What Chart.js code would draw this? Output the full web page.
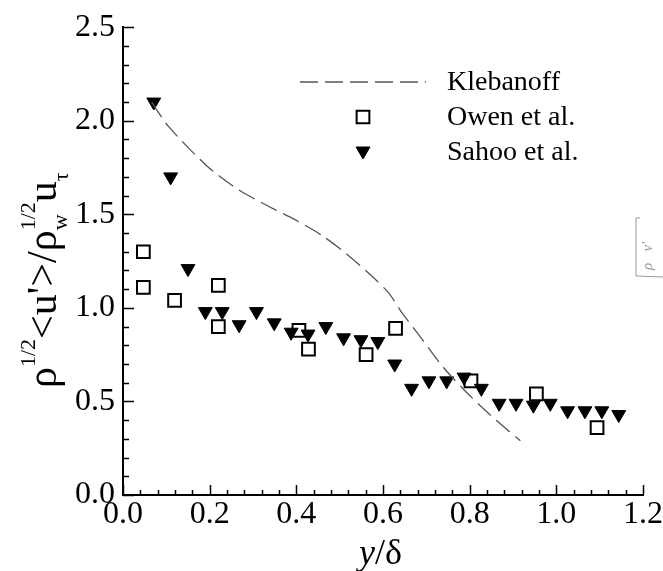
<!DOCTYPE html>
<html>
<head>
<meta charset="utf-8">
<script src="https://cdn.jsdelivr.net/npm/chart.js@4.4.0/dist/chart.umd.min.js"></script>
<style>
  html, body { margin: 0; padding: 0; background: #fff; }
  #wrap { width: 663px; height: 571px; position: relative; }
</style>
</head>
<body>
<div id="wrap"><canvas id="chart" width="663" height="571"></canvas></div>
<script>
// Klebanoff (dashed curve)
const klebanoffX = [0.066, 0.105, 0.193, 0.261, 0.330, 0.398, 0.457, 0.515, 0.574, 0.613, 0.642, 0.691, 0.740, 0.788, 0.837, 0.886, 0.917];
const klebanoffY = [2.10, 1.97, 1.76, 1.64, 1.55, 1.47, 1.39, 1.29, 1.17, 1.08, 0.98, 0.83, 0.68, 0.56, 0.45, 0.35, 0.29];

// Owen et al. (open squares)
const owenX = [0.047, 0.047, 0.119, 0.220, 0.220, 0.406, 0.428, 0.561, 0.629, 0.803, 0.954, 1.094];
const owenY = [1.30, 1.11, 1.04, 1.12, 0.90, 0.88, 0.78, 0.75, 0.89, 0.61, 0.54, 0.36];

// Sahoo et al. (filled triangles)
const sahooX = [0.071, 0.110, 0.150, 0.190, 0.229, 0.268, 0.308, 0.349, 0.388, 0.427, 0.468, 0.509, 0.549, 0.588, 0.627, 0.666, 0.706, 0.747, 0.787, 0.827, 0.868, 0.907, 0.947, 0.986, 1.026, 1.066, 1.105, 1.144];
const sahooY = [2.10, 1.70, 1.21, 0.98, 0.98, 0.91, 0.98, 0.92, 0.87, 0.86, 0.90, 0.84, 0.83, 0.82, 0.70, 0.57, 0.61, 0.61, 0.63, 0.57, 0.49, 0.49, 0.48, 0.49, 0.45, 0.45, 0.45, 0.43];

const seriesNames = ["Klebanoff", "Owen et al.", "Sahoo et al."];

const xTicks = [0, 0.2, 0.4, 0.6, 0.8, 1.0, 1.2];
const yTicks = [0, 0.5, 1.0, 1.5, 2.0, 2.5];

const serif = '"Liberation Serif", "Times New Roman", serif';

function pts(xs, ys) {
  return xs.map((x, i) => ({ x: x, y: ys[i] }));
}

// inward major/minor ticks like the original plot
const axisTicks = {
  id: 'axisTicks',
  afterDraw(chart) {
    const ctx = chart.ctx;
    const a = chart.chartArea;
    const xs = chart.scales.x, ys = chart.scales.y;
    ctx.save();
    ctx.strokeStyle = '#000';
    ctx.lineWidth = 1.5;
    ctx.beginPath();
    for (let i = 0; i <= 30; i++) {
      const px = Math.round(xs.getPixelForValue(i * 0.04)) + 0.5;
      const len = i % 5 === 0 ? 10 : 5;
      ctx.moveTo(px, a.bottom);
      ctx.lineTo(px, a.bottom - len);
    }
    for (let i = 0; i <= 25; i++) {
      const py = Math.round(ys.getPixelForValue(i * 0.1)) + 0.5;
      const len = i % 5 === 0 ? 11 : 6;
      ctx.moveTo(a.left, py);
      ctx.lineTo(a.left + len, py);
    }
    ctx.stroke();
    ctx.restore();
  }
};

// axis titles with super/subscripts
function drawRuns(ctx, runs) {
  let x = 0;
  runs.forEach(r => {
    if (r.stack) {
      let w = 0;
      r.stack.forEach(s => {
        ctx.font = s.size + 'px ' + serif;
        ctx.fillText(s.t, x, s.dy);
        w = Math.max(w, ctx.measureText(s.t).width);
      });
      x += w;
    } else {
      ctx.font = (r.italic ? 'italic ' : '') + r.size + 'px ' + serif;
      ctx.fillText(r.t, x, r.dy || 0);
      x += ctx.measureText(r.t).width;
    }
  });
}

const titles = {
  id: 'titles',
  afterDraw(chart) {
    const ctx = chart.ctx;
    const a = chart.chartArea;
    ctx.save();
    ctx.fillStyle = '#000';
    ctx.textBaseline = 'alphabetic';
    ctx.textAlign = 'left';

    // y title, rotated
    ctx.save();
    ctx.translate(56, 388);
    ctx.rotate(-Math.PI / 2);
    drawRuns(ctx, [
      { t: 'ρ', size: 42 },
      { t: '1/2', size: 22, dy: -21 },
      { t: "<u'>/ρ", size: 42 },
      { stack: [{ t: '1/2', size: 22, dy: -21 }, { t: 'w', size: 22, dy: 11 }] },
      { t: 'u', size: 42 },
      { t: 'τ', size: 22, dy: 12 }
    ]);
    ctx.restore();

    // x title
    ctx.save();
    ctx.translate((a.left + a.right) / 2 - 24, 564);
    drawRuns(ctx, [
      { t: 'y', size: 36, italic: true },
      { t: '/δ', size: 36 }
    ]);
    ctx.restore();

    // legend
    const ds = chart.data.datasets;
    ctx.font = '28px ' + serif;
    ctx.textBaseline = 'middle';
    ctx.strokeStyle = '#555';
    ctx.lineWidth = 1.4;
    ctx.setLineDash([18, 7]);
    ctx.beginPath();
    ctx.moveTo(300, 82);
    ctx.lineTo(426, 82);
    ctx.stroke();
    ctx.setLineDash([]);
    ctx.fillText(ds[0].label, 447, 83);

    ctx.fillStyle = 'rgba(0,0,0,0)';
    ctx.strokeStyle = '#000';
    ctx.lineWidth = 2;
    Chart.helpers.drawPoint(ctx, {
      pointStyle: 'rect', radius: 9, borderWidth: 2, rotation: 0
    }, 363, 117);
    ctx.fillStyle = '#000';
    ctx.fillText(ds[1].label, 447, 118);

    ctx.lineWidth = 1;
    Chart.helpers.drawPoint(ctx, {
      pointStyle: 'triangle', radius: 8, borderWidth: 1, rotation: 180
    }, 363, 151);
    ctx.fillText(ds[2].label, 447, 153);

    // stray label fragment at right edge
    ctx.strokeStyle = '#999';
    ctx.lineWidth = 1;
    ctx.beginPath();
    ctx.moveTo(640, 218);
    ctx.lineTo(636, 218);
    ctx.lineTo(636, 276);
    ctx.lineTo(663, 277);
    ctx.stroke();
    ctx.save();
    ctx.translate(652, 270);
    ctx.rotate(-Math.PI / 2);
    ctx.fillStyle = '#999';
    ctx.textBaseline = 'alphabetic';
    ctx.font = 'italic 15px ' + serif;
    ctx.fillText("ρ   v'", 0, 0);
    ctx.restore();

    ctx.restore();
  }
};

new Chart(document.getElementById('chart'), {
  type: 'scatter',
  data: {
    datasets: [
      {
        label: seriesNames[0],
        type: 'line',
        data: pts(klebanoffX, klebanoffY),
        borderColor: '#555',
        borderWidth: 1.3,
        borderDash: [18, 7],
        pointRadius: 0,
        tension: 0.3,
        fill: false
      },
      {
        label: seriesNames[1],
        data: pts(owenX, owenY),
        pointStyle: 'rect',
        pointRadius: 9,
        borderColor: '#000',
        borderWidth: 2,
        backgroundColor: 'rgba(0,0,0,0)'
      },
      {
        label: seriesNames[2],
        data: pts(sahooX, sahooY),
        pointStyle: 'triangle',
        pointRotation: 180,
        pointRadius: 8,
        borderColor: '#000',
        borderWidth: 1,
        backgroundColor: '#000'
      }
    ]
  },
  options: {
    responsive: false,
    animation: false,
    devicePixelRatio: 1,
    layout: { padding: { top: 20, right: 20, left: 0, bottom: 0 } },
    plugins: {
      legend: { display: false },
      tooltip: { enabled: false }
    },
    scales: {
      x: {
        type: 'linear',
        min: 0,
        max: 1.2,
        afterBuildTicks: s => { s.ticks = xTicks.map(v => ({ value: v })); },
        afterFit: s => { s.height = 76; },
        grid: { drawOnChartArea: false, drawTicks: false },
        border: { display: true, color: '#000', width: 2 },
        ticks: {
          padding: 0,
          color: '#000',
          font: { family: serif, size: 32 },
          callback: v => Number(v).toFixed(1)
        }
      },
      y: {
        type: 'linear',
        min: 0,
        max: 2.5,
        afterBuildTicks: s => { s.ticks = yTicks.map(v => ({ value: v })); },
        afterFit: s => { s.width = 123; },
        grid: { drawOnChartArea: false, drawTicks: false },
        border: { display: true, color: '#000', width: 2 },
        ticks: {
          padding: 8,
          color: '#000',
          font: { family: serif, size: 32 },
          callback: v => Number(v).toFixed(1)
        }
      }
    }
  },
  plugins: [axisTicks, titles]
});
</script>
</body>
</html>
